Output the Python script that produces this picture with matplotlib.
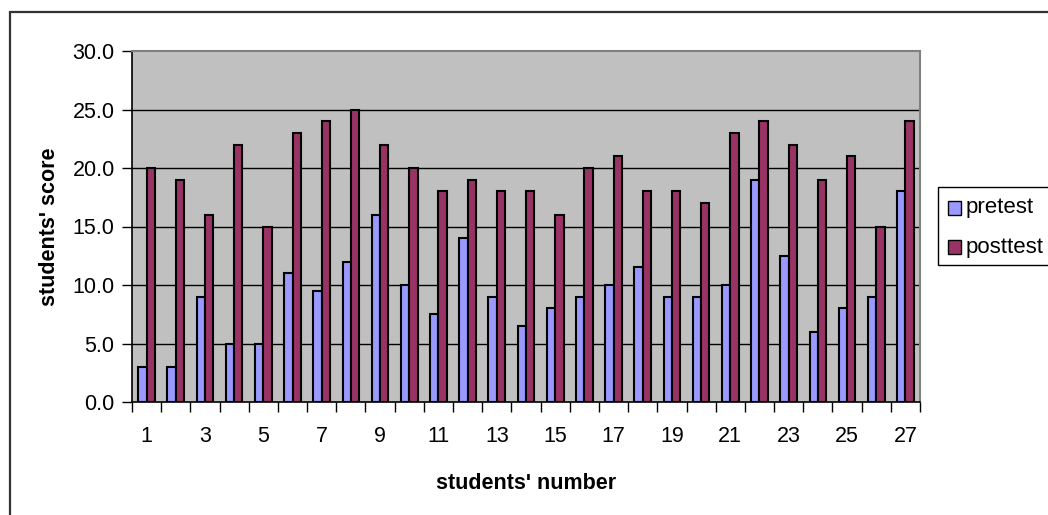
import matplotlib
matplotlib.use("Agg")
import matplotlib.pyplot as plt
from matplotlib.patches import Rectangle
import numpy as np

# Scores per student
students = list(range(1, 28))
pretest = [3, 3, 9, 5, 5, 11, 9.5, 12, 16, 10, 7.5, 14, 9, 6.5, 8,
           9, 10, 11.5, 9, 9, 10, 19, 12.5, 6, 8, 9, 18]
posttest = [20, 19, 16, 22, 15, 23, 24, 25, 22, 20, 18, 19, 18, 18, 16,
            20, 21, 18, 18, 17, 23, 24, 22, 19, 21, 15, 24]
series_names = ["pretest", "posttest"]
y_ticks = [0, 5, 10, 15, 20, 25, 30]

PRE_COLOR = "#9999FF"
POST_COLOR = "#993366"
PLOT_BG = "#C0C0C0"

plt.rcParams["font.family"] = ["Liberation Sans", "DejaVu Sans"]

W, H = 1048, 515
fig = plt.figure(figsize=(W / 100, H / 100), dpi=100)

def px(x0, y0, x1, y1):
    """Pixel box (top-left origin) to figure-fraction [l, b, w, h]."""
    return [x0 / W, 1 - y1 / H, (x1 - x0) / W, (y1 - y0) / H]

# outer chart frame
fig.patches.append(Rectangle((10 / W, -0.1), 1.2, 1 - 12 / H + 0.1,
                             transform=fig.transFigure, fill=False,
                             edgecolor="#333333", linewidth=1.6, zorder=0))

ax = fig.add_axes(px(132, 51, 920, 402))
ax.set_facecolor(PLOT_BG)

n = len(students)
x = np.arange(n)
bw = 1 / 3.5
ax.bar(x - bw / 2, pretest, width=bw, color=PRE_COLOR, edgecolor="black",
       linewidth=1.5, zorder=3)
ax.bar(x + bw / 2, posttest, width=bw, color=POST_COLOR, edgecolor="black",
       linewidth=1.5, zorder=3)

ax.set_xlim(-0.5, n - 0.5)
ax.set_ylim(0, 30)

# horizontal gridlines
for v in y_ticks[1:-1]:
    ax.axhline(v, color="black", linewidth=1.0, zorder=1)

ax.set_yticks(y_ticks)
ax.set_yticklabels([f"{v:.1f}" for v in y_ticks])
ax.tick_params(axis="y", direction="out", length=7, width=1, pad=5.5,
               labelsize=15.5, color="black")

# ticks on category boundaries, labels at odd categories
ax.set_xticks(np.arange(n + 1) - 0.5)
ax.set_xticklabels([])
ax.tick_params(axis="x", which="major", direction="out", length=7, width=1,
               color="black")
ax.set_xticks(x, minor=True)
ax.set_xticklabels([str(s) if s % 2 == 1 else "" for s in students],
                   minor=True)
ax.tick_params(axis="x", which="minor", length=0, pad=17, labelsize=15.5)

for side in ("top", "right"):
    ax.spines[side].set_color("#808080")
    ax.spines[side].set_linewidth(1.5)
for side in ("left", "bottom"):
    ax.spines[side].set_color("black")
    ax.spines[side].set_linewidth(1.2)

ax.set_xlabel("students' number", fontsize=15.5, fontweight="bold",
              labelpad=19)
ax.set_ylabel("students' score", fontsize=15.5, fontweight="bold",
              labelpad=9)

# legend box
fig.patches.append(Rectangle((938 / W, 1 - 265 / H), 0.2, 78 / H,
                             transform=fig.transFigure, facecolor="white",
                             edgecolor="black", linewidth=1.0, zorder=2))
for i, (name, col) in enumerate(zip(series_names, [PRE_COLOR, POST_COLOR])):
    cy = 208 + i * 39
    fig.patches.append(Rectangle((948 / W, 1 - (cy + 6.5) / H), 13 / W,
                                 13 / H, transform=fig.transFigure,
                                 facecolor=col, edgecolor="black",
                                 linewidth=1.0, zorder=3))
    fig.text(966 / W, 1 - cy / H, name, fontsize=16, va="center",
             ha="left", zorder=4)

fig.savefig("out.png", dpi=100)
